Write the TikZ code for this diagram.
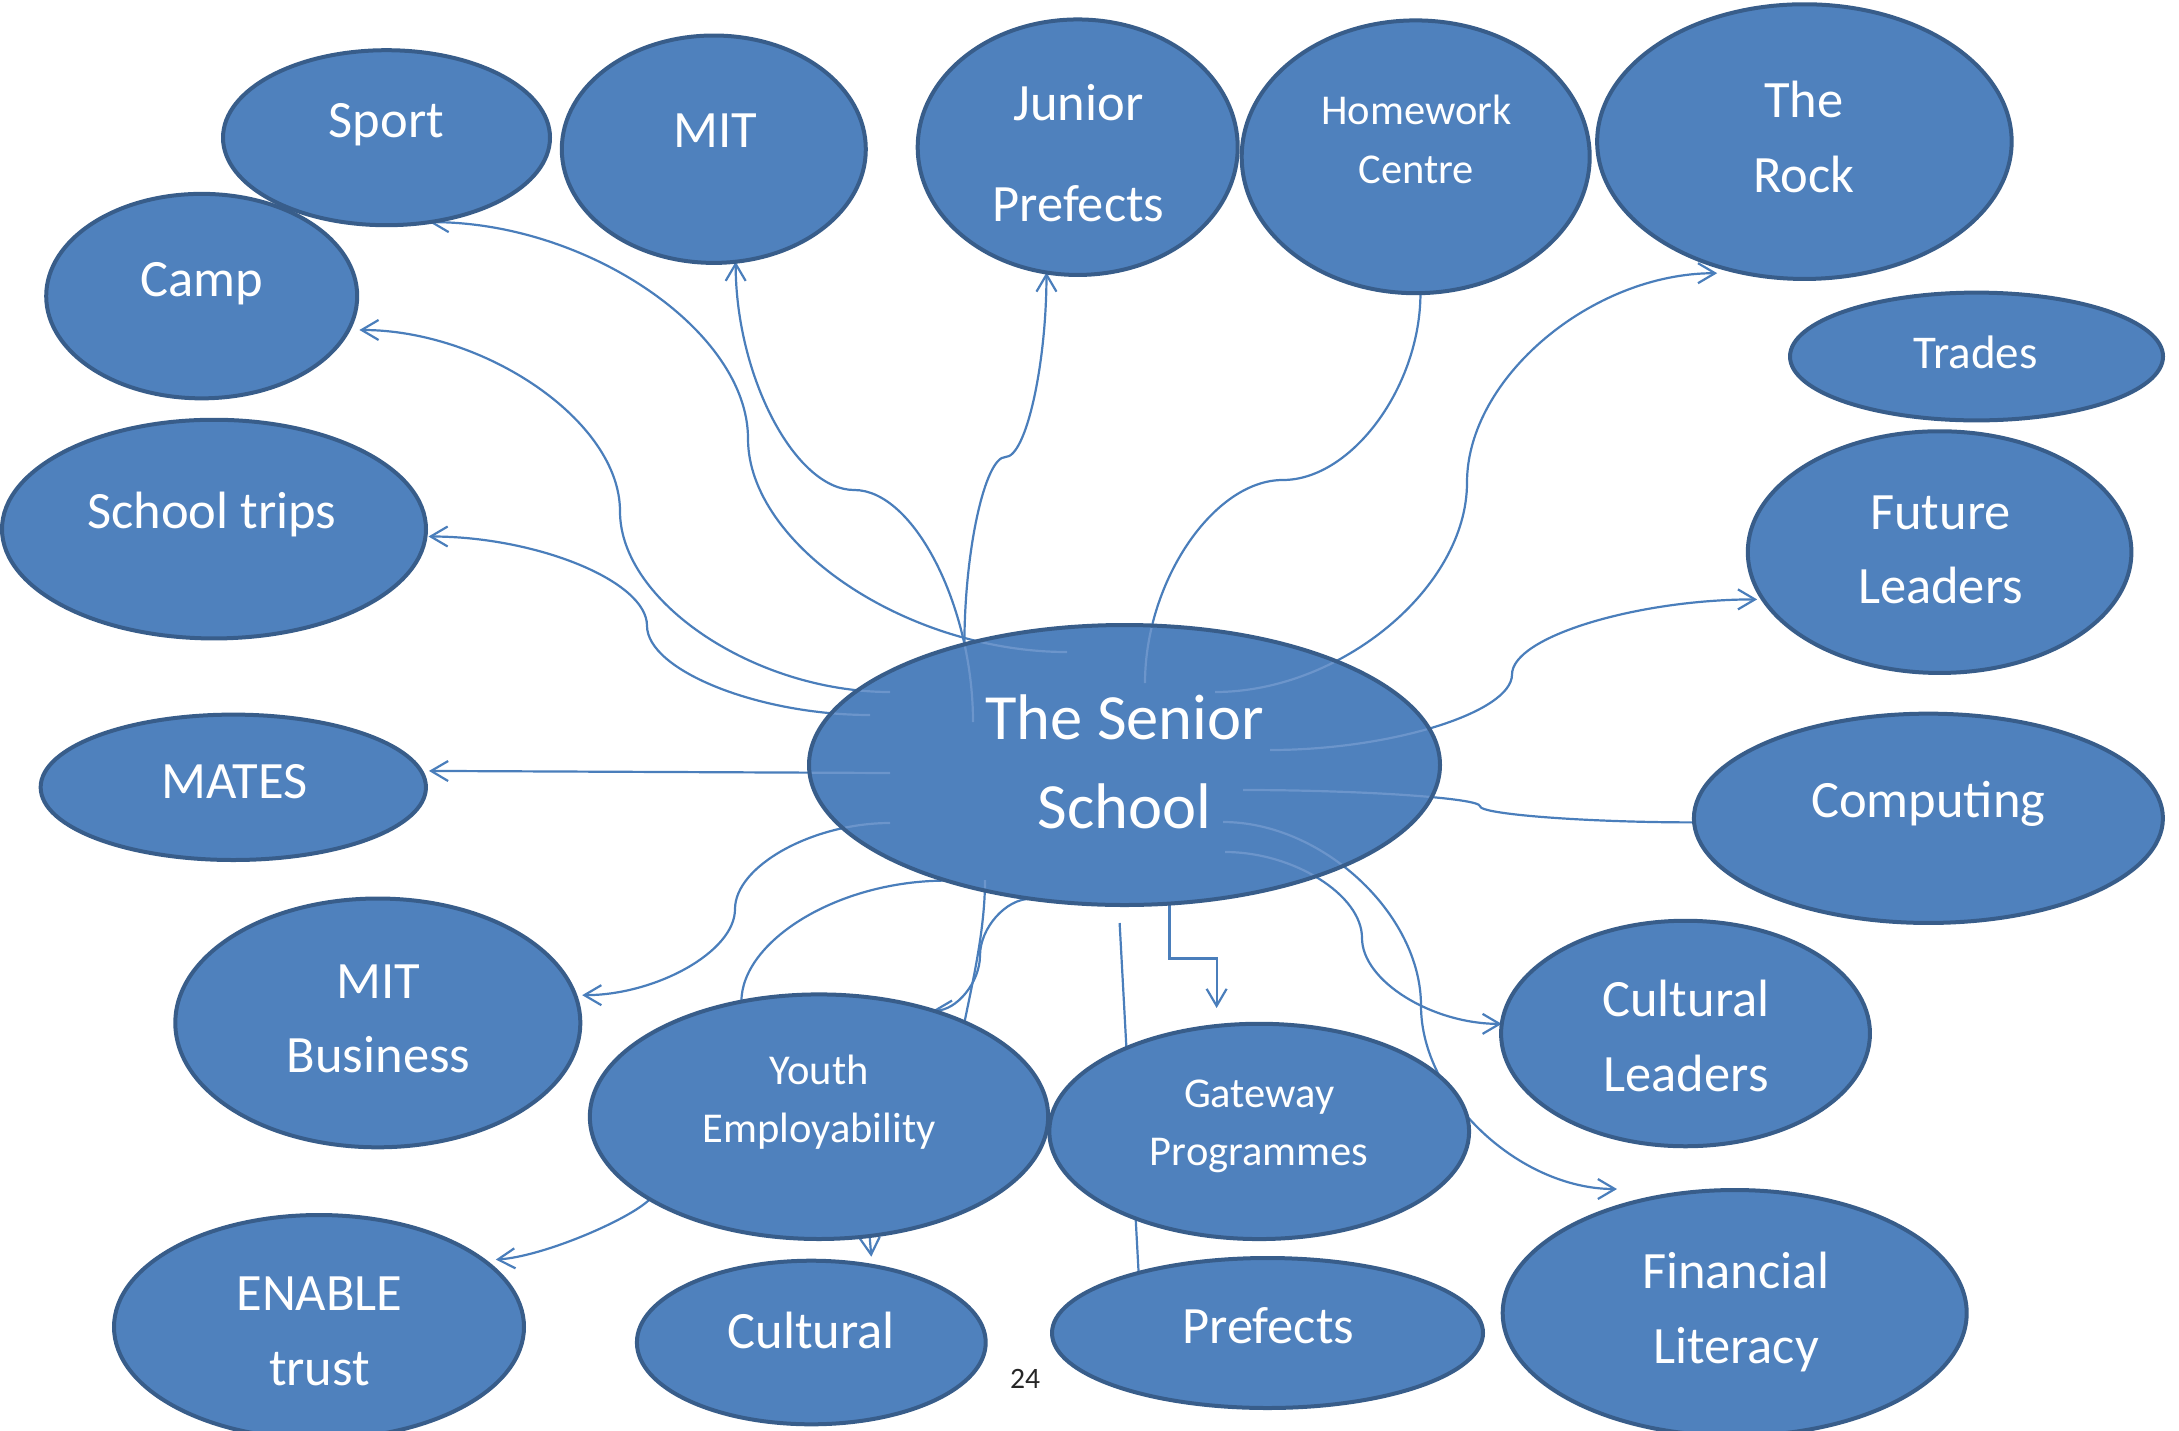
\documentclass[tikz,border=0pt]{standalone}
\usepackage{fontspec}
\setmainfont{Carlito}
\usetikzlibrary{arrows.meta,shapes.geometric}

\definecolor{bubblefill}{RGB}{79,129,189}
\definecolor{bubbleedge}{RGB}{56,93,138}
\definecolor{linkblue}{RGB}{74,126,187}
\definecolor{linkfaint}{RGB}{108,149,203}
\definecolor{pagenum}{RGB}{38,38,38}

\pgfdeclarelayer{behind}
\pgfsetlayers{behind,main}

\newcommand\fsz[1]{\fontsize{#1}{#1}\selectfont}

\tikzset{
  bubble/.style={ellipse, draw=bubbleedge, fill=bubblefill, line width=4pt,
                 inner sep=0pt, outer sep=0pt},
  caption/.style={text=white, anchor=base, inner sep=0pt},
  captionL/.style={caption, font=\fsz{52.5}},
  captionS/.style={caption, font=\fsz{42.5}},
  link/.style={draw=linkblue, line width=2.2pt},
  faintlink/.style={draw=linkfaint, line width=2.2pt},
  arrowed/.style={-{Straight Barb[length=17pt,width=20pt]}},
}

% connectors leaving the central bubble (drawn twice: normally, and faintly across its fill)
\newcommand\seniorspokes[1]{%
  \draw[#1,arrowed] (sA) .. controls +(-159.5,0) and +(0,106.75) .. (748,438.5)
        .. controls +(0,-106.75) and +(158.5,0) .. (sport.-63);
  \draw[#1,arrowed,shorten >=11pt] (sB) .. controls +(-135,0) and +(0,90.35) .. (620,511.3)
        .. controls +(0,-90.35) and +(135.8,0) .. (camp.-13);
  \draw[#1,arrowed,shorten >=3pt] (sC) .. controls +(-111.5,0) and +(0,44.6) .. (647,625.7)
        .. controls +(0,-44.6) and +(110.75,0) .. (trips.-2);
  \draw[#1,arrowed] (sD) .. controls +(0,-116) and +(59.3,0) .. (854.3,490)
        .. controls +(-59.3,0) and +(0,114.15) .. (mit.-79);
  \draw[#1] (sF) .. controls +(0,-101.5) and +(-68.9,0) .. (1282.75,480)
        .. controls +(68.9,0) and +(0,93.4) .. (hw.-88);
  \draw[#1,arrowed] (sG) .. controls +(126,0) and +(0,104.7) .. (1467,482.6)
        .. controls +(0,-104.7) and +(-125.1,0) .. ([yshift=-7pt]rock.-125);
  \draw[#1,arrowed,shorten >=6pt] (sH) .. controls +(121,0) and +(0,37.75) .. (1512,674.5)
        .. controls +(0,-37.75) and +(-125.4,0) .. (fut.-165);
  \draw[#1] (sI) .. controls +(118.5,0) and +(0,-8.1) .. (1480,806.2)
        .. controls +(0,8.1) and +(-106.95,0) .. (comp.181);
  \draw[#1,arrowed] (sJ) .. controls +(68.5,0) and +(0,-43) .. (1362,937.95)
        .. controls +(0,43) and +(-69.9,0) .. (cl.177);
  \draw[#1,arrowed] (sK) .. controls +(99,0) and +(0,-91.8) .. (1421,1005.65)
        .. controls +(0,91.8) and +(-97.5,0) .. ([yshift=18pt]fin.138);
  \draw[#1,arrowed,shorten >=7pt] (sS) .. controls +(-77.5,0) and +(0,-43) .. (735,909.1)
        .. controls +(0,43) and +(80,0) .. (mbz.8);
  \draw[#1,arrowed,shorten >=8pt] (sT) -- (mates.5);
  \draw[#1] (sP) .. controls +(0,50) and +(8,-40) .. (yth.33);
}

\begin{document}
\begin{tikzpicture}[x=1pt,y=-1pt]
\useasboundingbox (0,0) rectangle (2179,1430);

% ---------- bubbles ----------
\node[bubble, minimum width=327pt,   minimum height=175pt]   (sport)  at (386.5,137.7) {};
\node[bubble, minimum width=304pt,   minimum height=227.4pt] (mit)    at (713.8,149.2) {};
\node[bubble, minimum width=320pt,   minimum height=255.5pt] (junior) at (1077.7,147.2) {};
\node[bubble, minimum width=348pt,   minimum height=272.8pt] (hw)     at (1415.7,156.8) {};
\node[bubble, minimum width=414.5pt, minimum height=274.7pt] (rock)   at (1804.4,141.6) {};
\node[bubble, minimum width=311pt,   minimum height=204.5pt] (camp)   at (201.7,296.1) {};
\node[bubble, minimum width=373pt,   minimum height=127.8pt] (trades) at (1976.5,356.5) {};
\node[bubble, minimum width=424pt,   minimum height=218.7pt] (trips)  at (214,529.1) {};
\node[bubble, minimum width=383.6pt, minimum height=241.7pt] (fut)    at (1939.6,552.1) {};
\node[bubble, minimum width=631pt,   minimum height=280pt]   (senior) at (1124.5,765) {};
\node[bubble, minimum width=385.3pt, minimum height=145.4pt] (mates)  at (233.3,787.3) {};
\node[bubble, minimum width=469pt,   minimum height=209.3pt] (comp)   at (1928.4,818.3) {};
\node[bubble, minimum width=405pt,   minimum height=248.8pt] (mbz)    at (377.8,1022.9) {};
\node[bubble, minimum width=458.3pt, minimum height=244.6pt] (yth)    at (819,1116.7) {};
\node[bubble, minimum width=419.8pt, minimum height=215.3pt] (gw)     at (1259.2,1131.4) {};
\node[bubble, minimum width=368.9pt, minimum height=225.5pt] (cl)     at (1685.5,1033.5) {};
\node[bubble, minimum width=410pt,   minimum height=224pt]   (enb)    at (319,1327) {};
\node[bubble, minimum width=348.8pt, minimum height=163.6pt] (cul)    at (811.3,1342.5) {};
\node[bubble, minimum width=431pt,   minimum height=150pt]   (pref)   at (1267.5,1333) {};
\node[bubble, minimum width=464pt,   minimum height=246pt]   (fin)    at (1734.7,1313) {};

% ---------- loose starting points inside the central bubble ----------
\coordinate (sA) at (1067,652);
\coordinate (sB) at (890,692);
\coordinate (sC) at (870,715);
\coordinate (sD) at (973,722);
\coordinate (sF) at (1145,683);
\coordinate (sG) at (1215,692);
\coordinate (sH) at (1270,750);
\coordinate (sI) at (1243,790);
\coordinate (sJ) at (1225,852);
\coordinate (sK) at (1223,822);
\coordinate (sP) at (985,880);
\coordinate (sS) at (890,823);
\coordinate (sT) at (890,773);

% ---------- connectors (behind the bubbles) ----------
\begin{pgfonlayer}{behind}
  \seniorspokes{link}
  % Junior Prefects
  \draw[link,arrowed] (senior.143) .. controls +(0,-93.7) and +(-20.5,0) .. (1005.5,457)
        .. controls +(20.5,0) and +(0,92.25) .. (junior.-104);
  % Gateway Programmes (elbow)
  \draw[link,arrowed] (senior.-72) -- ++(0,55) -| ([yshift=18pt]gw.112);
  % Prefects
  \draw[link] ([yshift=-18pt]senior.-92) -- (pref.155);
  % Youth Employability
  \draw[link] (senior.213) .. controls +(-110,0) and +(0,-60) .. (yth.124);
  \draw[link,arrowed] (senior.235) .. controls +(-25.5,0) and +(0,-27) .. (980,955.5)
        .. controls +(0,27) and +(23.6,0) .. (yth.43);
  % from Youth Employability
  \draw[link,arrowed,shorten >=12pt] (yth.206) .. controls +(-20,20) and +(60,-4) .. (enb.22);
  \draw[link,arrowed] (yth.-67) -- ([yshift=9pt]cul.52);
\end{pgfonlayer}

% faint traces of the connectors across the central bubble
\begin{scope}
  \clip (senior.center) ellipse [x radius=313pt, y radius=137.5pt];
  \seniorspokes{faintlink}
\end{scope}

% ---------- labels ----------
\node[captionL] (sport-t)  at (386.5,137.7) {Sport};
\node[captionL] (mit-t)    at (715.5,147.8) {MIT};
\node[captionL] (junior-a) at (1078.5,120.3) {Junior};
\node[captionL] (junior-b) at (1078.5,221.8) {Prefects};
\node[captionS] (hw-a)     at (1416.4,124) {Homework};
\node[captionS] (hw-b)     at (1416.4,183.7) {Centre};
\node[captionL] (rock-a)   at (1804,117.1) {The};
\node[captionL] (rock-b)   at (1804,192.8) {Rock};
\node[caption, font=\fsz{47}] (trades-t) at (1975.4,368.7) {Trades};
\node[captionL] (camp-t)   at (201.7,296.1) {Camp};
\node[captionL] (trips-t)  at (211.9,528.9) {School trips};
\node[captionL] (fut-a)    at (1940.5,529.4) {Future};
\node[captionL] (fut-b)    at (1940.5,603.8) {Leaders};
\node[caption, font=\fsz{64.5}] (senior-a) at (1124.7,739.3) {The Senior};
\node[caption, font=\fsz{64.5}] (senior-b) at (1124.7,828.3) {School};
\node[captionL] (mates-t)  at (234.3,798.7) {MATES};
\node[captionL] (comp-t)   at (1928.4,817) {Computing};
\node[captionL] (mbz-a)    at (378.6,998) {MIT};
\node[captionL] (mbz-b)    at (378.6,1072.4) {Business};
\node[captionS] (yth-a)    at (819.2,1084) {Youth};
\node[captionS] (yth-b)    at (819.2,1142.3) {Employability};
\node[captionS] (gw-a)     at (1259.2,1107.4) {Gateway};
\node[captionS] (gw-b)     at (1259.2,1165.5) {Programmes};
\node[captionL] (cl-a)     at (1686,1016.6) {Cultural};
\node[captionL] (cl-b)     at (1686,1091) {Leaders};
\node[captionL] (enb-a)    at (319.5,1310) {ENABLE};
\node[captionL] (enb-b)    at (319.5,1385.3) {trust};
\node[captionL] (cul-t)    at (811.3,1348) {Cultural};
\node[captionL] (pref-t)   at (1268.2,1343.4) {Prefects};
\node[captionL] (fin-a)    at (1736,1288.9) {Financial};
\node[captionL] (fin-b)    at (1736,1363.4) {Literacy};

% page number
\node[anchor=base, inner sep=0pt, text=pagenum, font=\fsz{29.6}] (page) at (1025,1388.3) {24};
\end{tikzpicture}
\end{document}
